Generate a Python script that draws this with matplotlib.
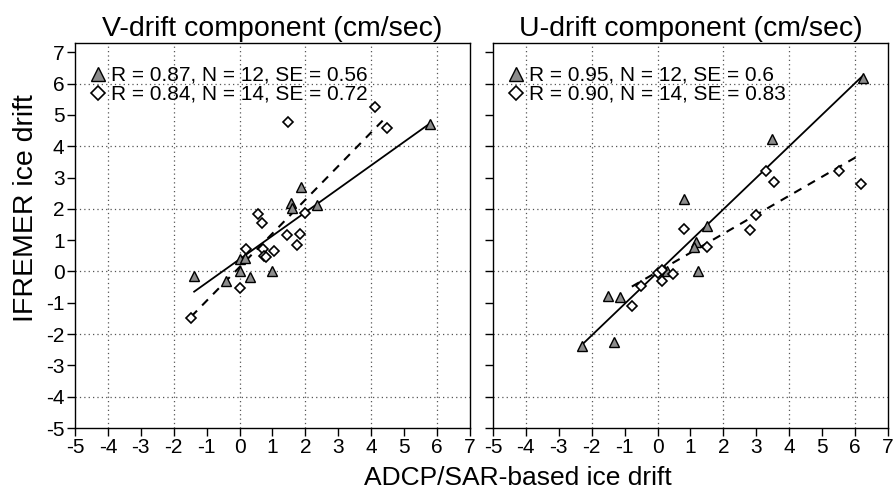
import numpy as np
import matplotlib
matplotlib.use('Agg')
import matplotlib.pyplot as plt

plt.rcParams['font.family'] = ['Liberation Sans', 'DejaVu Sans']

# V-drift (left panel)
v_tri_x = [-1.38, -0.42, 0.0, 0.17, 0.0, 0.32, 1.0, 1.56, 1.59, 1.86, 2.34, 5.78]
v_tri_y = [-0.16, -0.29, 0.41, 0.42, 0.01, -0.18, 0.0, 2.18, 2.02, 2.71, 2.13, 4.70]
v_dia_x = [-1.47, 0.0, 0.21, 0.56, 0.68, 0.71, 0.75, 0.81, 1.04, 1.45, 1.47, 1.73, 1.85, 2.0, 4.11, 4.48]
v_dia_y = [-1.50, -0.53, 0.73, 1.85, 1.56, 0.73, 0.48, 0.46, 0.66, 1.15, 4.76, 0.85, 1.20, 1.86, 5.24, 4.59]
v_fit_tri = (0.75, 0.39)     # slope, intercept
v_fit_dia = (1.076, 0.14)
v_labels = ['R = 0.87, N = 12, SE = 0.56', 'R = 0.84, N = 14, SE = 0.72']

# U-drift (right panel)
u_tri_x = [-2.29, -1.50, -1.15, -1.32, 0.29, 0.81, 1.16, 1.12, 1.22, 1.51, 3.47, 6.23]
u_tri_y = [-2.39, -0.79, -0.81, -2.24, 0.03, 2.31, 0.94, 0.78, 0.03, 1.44, 4.22, 6.19]
u_dia_x = [-0.78, -0.49, 0.03, 0.14, 0.14, 0.46, 0.81, 1.49, 2.82, 3.0, 3.29, 3.55, 5.50, 6.19]
u_dia_y = [-1.09, -0.45, -0.05, -0.32, 0.05, -0.09, 1.37, 0.78, 1.32, 1.81, 3.20, 2.85, 3.21, 2.80]
u_fit_tri = (1.007, -0.03)
u_fit_dia = (0.607, -0.01)
u_labels = ['R = 0.95, N = 12, SE = 0.6', 'R = 0.90, N = 14, SE = 0.83']

titles = ['V-drift component (cm/sec)', 'U-drift component (cm/sec)']
ticks = list(range(-5, 8))
grid_vals = [-4, -2, 0, 2, 4, 6]

fig = plt.figure(figsize=(8.93, 4.90), dpi=100)
ax1 = fig.add_axes([0.084, 0.1265, 0.4423, 0.786])
ax2 = fig.add_axes([0.552, 0.1265, 0.4423, 0.786], sharey=ax1)

panels = [(ax1, v_tri_x, v_tri_y, v_dia_x, v_dia_y, v_fit_tri, v_fit_dia, v_labels),
          (ax2, u_tri_x, u_tri_y, u_dia_x, u_dia_y, u_fit_tri, u_fit_dia, u_labels)]

for i, (ax, tx, ty, dx, dy, ft, fd, labs) in enumerate(panels):
    # dotted grid at even values only
    for g in grid_vals:
        ax.axvline(g, ls=(0, (1, 2.5)), color='#555555', lw=0.9, zorder=0)
        ax.axhline(g, ls=(0, (1, 2.5)), color='#555555', lw=0.9, zorder=0)
    tx = np.array(tx); dx = np.array(dx)
    xs = np.array([tx.min(), tx.max()])
    ax.plot(xs, ft[0] * xs + ft[1], color='black', lw=1.3, zorder=2)
    xs = np.array([dx.min(), dx.max()])
    ax.plot(xs, fd[0] * xs + fd[1], color='black', lw=1.5, ls=(0, (4, 3.5)), zorder=2)
    ax.plot(tx, ty, ls='none', marker='^', ms=7, mfc='#8c8c8c', mec='black', mew=1.0,
            label=labs[0], zorder=3)
    ax.plot(dx, dy, ls='none', marker='D', ms=4.8, mfc='white', mec='black', mew=1.2,
            label=labs[1], zorder=3)
    ax.set_xlim(-5, 7)
    ax.set_ylim(-5, 7.3)
    ax.set_xticks(ticks)
    ax.set_xticklabels([str(t) for t in ticks])
    ax.set_yticks(ticks)
    ax.set_yticklabels([str(t) for t in ticks])
    ax.tick_params(direction='out', length=6, width=1, labelsize=15, pad=1.5)
    for sp in ax.spines.values():
        sp.set_linewidth(1.0)
    ax.set_title(titles[i], fontsize=20.5, pad=5)
    ax.legend(loc='upper left', bbox_to_anchor=(0.043, 0.94), frameon=False, fontsize=15,
              handlelength=0.6, handletextpad=0.3, labelspacing=0.0, borderaxespad=0,
              borderpad=0, markerscale=1.4)

ax2.tick_params(axis='y', labelleft=False)
fig.text(0.029, 0.575, 'IFREMER ice drift', rotation=90, ha='center', va='center', fontsize=20.5)
fig.text(0.58, 0.025, 'ADCP/SAR-based ice drift', ha='center', va='center', fontsize=19)

fig.savefig('out.png', dpi=100)
